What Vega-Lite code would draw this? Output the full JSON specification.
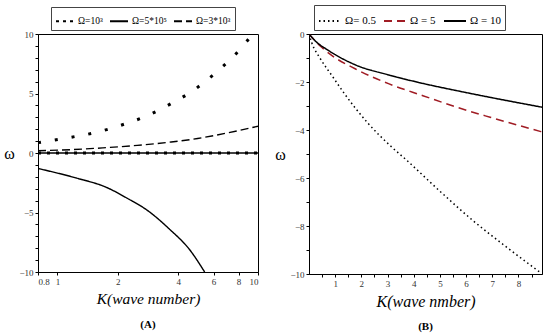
{
  "$schema": "https://vega.github.io/schema/vega-lite/v6.json",
  "background": "white",
  "padding": {"left": 3, "top": 4, "right": 3, "bottom": 2},
  "config": {
    "font": "Liberation Serif",
    "view": {"stroke": "black", "strokeWidth": 1},
    "axis": {"domainColor": "black", "tickColor": "black", "labelFont": "Liberation Serif", "labelFontSize": 9, "labelColor": "#333", "titleFont": "Liberation Serif", "titleColor": "black", "titleFontWeight": "normal", "grid": false, "tickSize": 3, "labelPadding": 2, "labelOverlap": false},
    "legend": {"orient": "none", "direction": "horizontal", "strokeColor": "#444", "padding": 4, "labelFont": "Liberation Serif", "labelFontSize": 9.5, "labelColor": "black", "columnPadding": 3, "symbolType": "stroke", "symbolSize": 324, "symbolStrokeWidth": 2, "symbolStrokeColor": "black", "labelOffset": 3}
  },
  "datasets": {
    "left": [
      {"series": "Ω=10³", "branch": "up", "k": 0.8, "w": 0.87},
      {"series": "Ω=10³", "branch": "up", "k": 1.03, "w": 1.17},
      {"series": "Ω=10³", "branch": "up", "k": 1.25, "w": 1.41},
      {"series": "Ω=10³", "branch": "up", "k": 1.53, "w": 1.7},
      {"series": "Ω=10³", "branch": "up", "k": 1.85, "w": 2.07},
      {"series": "Ω=10³", "branch": "up", "k": 2.24, "w": 2.52},
      {"series": "Ω=10³", "branch": "up", "k": 2.71, "w": 3.03},
      {"series": "Ω=10³", "branch": "up", "k": 3.26, "w": 3.67},
      {"series": "Ω=10³", "branch": "up", "k": 3.9, "w": 4.38},
      {"series": "Ω=10³", "branch": "up", "k": 4.67, "w": 5.16},
      {"series": "Ω=10³", "branch": "up", "k": 5.51, "w": 6.07},
      {"series": "Ω=10³", "branch": "up", "k": 6.47, "w": 7.06},
      {"series": "Ω=10³", "branch": "up", "k": 7.54, "w": 8.11},
      {"series": "Ω=10³", "branch": "up", "k": 8.71, "w": 9.3},
      {"series": "Ω=10³", "branch": "up", "k": 9.4, "w": 10},
      {"series": "Ω=3*10³", "branch": "up", "k": 0.8, "w": 0.19},
      {"series": "Ω=3*10³", "branch": "up", "k": 1.2, "w": 0.29},
      {"series": "Ω=3*10³", "branch": "up", "k": 1.68, "w": 0.43},
      {"series": "Ω=3*10³", "branch": "up", "k": 2.5, "w": 0.64},
      {"series": "Ω=3*10³", "branch": "up", "k": 3.61, "w": 0.91},
      {"series": "Ω=3*10³", "branch": "up", "k": 5, "w": 1.22},
      {"series": "Ω=3*10³", "branch": "up", "k": 6.18, "w": 1.5},
      {"series": "Ω=3*10³", "branch": "up", "k": 8, "w": 1.88},
      {"series": "Ω=3*10³", "branch": "up", "k": 10, "w": 2.25},
      {"series": "Ω=5*10⁵", "branch": "down", "k": 0.8, "w": -1.3},
      {"series": "Ω=5*10⁵", "branch": "down", "k": 1.24, "w": -2.1},
      {"series": "Ω=5*10⁵", "branch": "down", "k": 1.75, "w": -2.88},
      {"series": "Ω=5*10⁵", "branch": "down", "k": 2.28, "w": -3.9},
      {"series": "Ω=5*10⁵", "branch": "down", "k": 2.77, "w": -4.75},
      {"series": "Ω=5*10⁵", "branch": "down", "k": 3.62, "w": -6.4},
      {"series": "Ω=5*10⁵", "branch": "down", "k": 4.55, "w": -8.1},
      {"series": "Ω=5*10⁵", "branch": "down", "k": 5.42, "w": -10},
      {"series": "Ω=5*10⁵", "branch": "zero", "k": 0.8, "w": 0},
      {"series": "Ω=5*10⁵", "branch": "zero", "k": 10, "w": 0},
      {"series": "Ω=10³", "branch": "zdot", "k": 0.8, "w": 0},
      {"series": "Ω=10³", "branch": "zdot", "k": 10, "w": 0}
    ],
    "right": [
      {"series": "Ω= 0.5", "k": 0, "w": 0},
      {"series": "Ω= 0.5", "k": 0.1, "w": -0.35},
      {"series": "Ω= 0.5", "k": 0.4, "w": -0.97},
      {"series": "Ω= 0.5", "k": 0.88, "w": -1.74},
      {"series": "Ω= 0.5", "k": 1.35, "w": -2.48},
      {"series": "Ω= 0.5", "k": 1.78, "w": -3.1},
      {"series": "Ω= 0.5", "k": 2.23, "w": -3.69},
      {"series": "Ω= 0.5", "k": 3.13, "w": -4.68},
      {"series": "Ω= 0.5", "k": 3.71, "w": -5.24},
      {"series": "Ω= 0.5", "k": 4.99, "w": -6.54},
      {"series": "Ω= 0.5", "k": 6.28, "w": -7.79},
      {"series": "Ω= 0.5", "k": 7.57, "w": -8.9},
      {"series": "Ω= 0.5", "k": 8.85, "w": -9.95},
      {"series": "Ω = 5", "k": 0, "w": 0},
      {"series": "Ω = 5", "k": 0.17, "w": -0.21},
      {"series": "Ω = 5", "k": 0.45, "w": -0.52},
      {"series": "Ω = 5", "k": 0.88, "w": -0.9},
      {"series": "Ω = 5", "k": 1.78, "w": -1.46},
      {"series": "Ω = 5", "k": 3.06, "w": -2.08},
      {"series": "Ω = 5", "k": 4.35, "w": -2.57},
      {"series": "Ω = 5", "k": 5.64, "w": -3.05},
      {"series": "Ω = 5", "k": 6.92, "w": -3.47},
      {"series": "Ω = 5", "k": 8.9, "w": -4.08},
      {"series": "Ω = 10", "k": 0, "w": 0},
      {"series": "Ω = 10", "k": 0.23, "w": -0.28},
      {"series": "Ω = 10", "k": 0.75, "w": -0.69},
      {"series": "Ω = 10", "k": 1.78, "w": -1.29},
      {"series": "Ω = 10", "k": 3.06, "w": -1.71},
      {"series": "Ω = 10", "k": 4.35, "w": -2.06},
      {"series": "Ω = 10", "k": 5.64, "w": -2.36},
      {"series": "Ω = 10", "k": 6.92, "w": -2.64},
      {"series": "Ω = 10", "k": 8.9, "w": -3.05}
    ]
  },
  "hconcat": [
    {
      "width": 220,
      "height": 238,
      "title": {"text": "(A)", "orient": "bottom", "fontSize": 11, "fontWeight": "bold", "font": "Liberation Serif", "offset": 12, "color": "black"},
      "data": {"name": "left"},
      "encoding": {
        "x": {"field": "k", "type": "quantitative", "scale": {"type": "log", "domain": [0.8, 10], "nice": false},
              "axis": {"values": [0.8, 1, 2, 4, 6, 8, 10], "format": "~g", "title": "K(wave number)", "titleFontSize": 15.5, "titleFontStyle": "italic", "titlePadding": 5}},
        "y": {"field": "w", "type": "quantitative", "scale": {"domain": [-10, 10], "nice": false},
              "axis": {"values": [-10, -9, -8, -7, -6, -5, -4, -3, -2, -1, 0, 1, 2, 3, 4, 5, 6, 7, 8, 9, 10], "labelExpr": "datum.value % 5 === 0 ? datum.label : ''", "title": "ω", "titleAngle": 0, "titleFontSize": 16, "titleBaseline": "middle", "titleAlign": "center", "titlePadding": 10}}
      },
      "layer": [
        {
          "transform": [{"filter": "datum.branch !== 'zdot' && datum.series !== 'Ω=10³'"}],
          "mark": {"type": "line", "interpolate": "monotone", "clip": true, "strokeCap": "butt", "color": "black", "strokeWidth": 1.4},
          "encoding": {
            "strokeDash": {"field": "series", "type": "nominal",
                           "scale": {"domain": ["Ω=10³", "Ω=5*10⁵", "Ω=3*10³"], "range": [[3, 4], [1, 0], [8, 4]]},
                           "legend": {"title": null, "legendX": 13, "legendY": -27}},
            "detail": {"field": "branch"}
          }
        },
        {
          "transform": [{"filter": "datum.branch === 'up' && datum.series === 'Ω=10³'"}],
          "mark": {"type": "line", "interpolate": "monotone", "clip": true, "strokeCap": "butt", "color": "black", "strokeWidth": 3, "strokeDash": [3, 14]},
          "encoding": {}
        },
        {
          "transform": [{"filter": "datum.branch === 'zdot'"}],
          "mark": {"type": "line", "clip": true, "strokeCap": "butt", "color": "black", "strokeWidth": 3, "strokeDash": [3, 6]},
          "encoding": {}
        }
      ]
    },
    {
      "width": 233,
      "height": 240,
      "title": {"text": "(B)", "orient": "bottom", "fontSize": 11, "fontWeight": "bold", "font": "Liberation Serif", "offset": 12, "color": "black"},
      "data": {"name": "right"},
      "mark": {"type": "line", "interpolate": "monotone", "clip": true, "strokeWidth": 1.5, "strokeCap": "butt"},
      "encoding": {
        "x": {"field": "k", "type": "quantitative", "scale": {"domain": [0, 8.9], "nice": false},
              "axis": {"values": [0.5, 1, 1.5, 2, 2.5, 3, 3.5, 4, 4.5, 5, 5.5, 6, 6.5, 7, 7.5, 8, 8.5], "labelExpr": "datum.value % 1 === 0 ? format(datum.value, 'd') : ''", "title": "K(wave nmber)", "titleFontSize": 16, "titleFontStyle": "italic", "titlePadding": 5}},
        "y": {"field": "w", "type": "quantitative", "scale": {"domain": [-10, 0], "nice": false},
              "axis": {"values": [-10, -9, -8, -7, -6, -5, -4, -3, -2, -1, 0], "labelExpr": "datum.value % 2 === 0 ? datum.label : ''", "title": "ω", "titleAngle": 0, "titleFontSize": 16, "titleBaseline": "middle", "titleAlign": "center", "titlePadding": 10}},
        "color": {"field": "series", "type": "nominal",
                  "scale": {"domain": ["Ω= 0.5", "Ω = 5", "Ω = 10"], "range": ["black", "#a01c24", "black"]},
                  "legend": {"title": null, "legendX": 5, "legendY": -29, "symbolStrokeColor": null, "labelFontSize": 11, "symbolSize": 484, "columnPadding": 4}},
        "strokeDash": {"field": "series", "type": "nominal",
                       "scale": {"domain": ["Ω= 0.5", "Ω = 5", "Ω = 10"], "range": [[1.5, 3], [8, 5], [1, 0]]},
                       "legend": {"title": null, "legendX": 5, "legendY": -29, "labelFontSize": 11, "symbolSize": 484, "columnPadding": 4}}
      }
    }
  ],
  "spacing": 15,
  "resolve": {"scale": {"x": "independent", "y": "independent", "color": "independent", "strokeDash": "independent"}}
}
